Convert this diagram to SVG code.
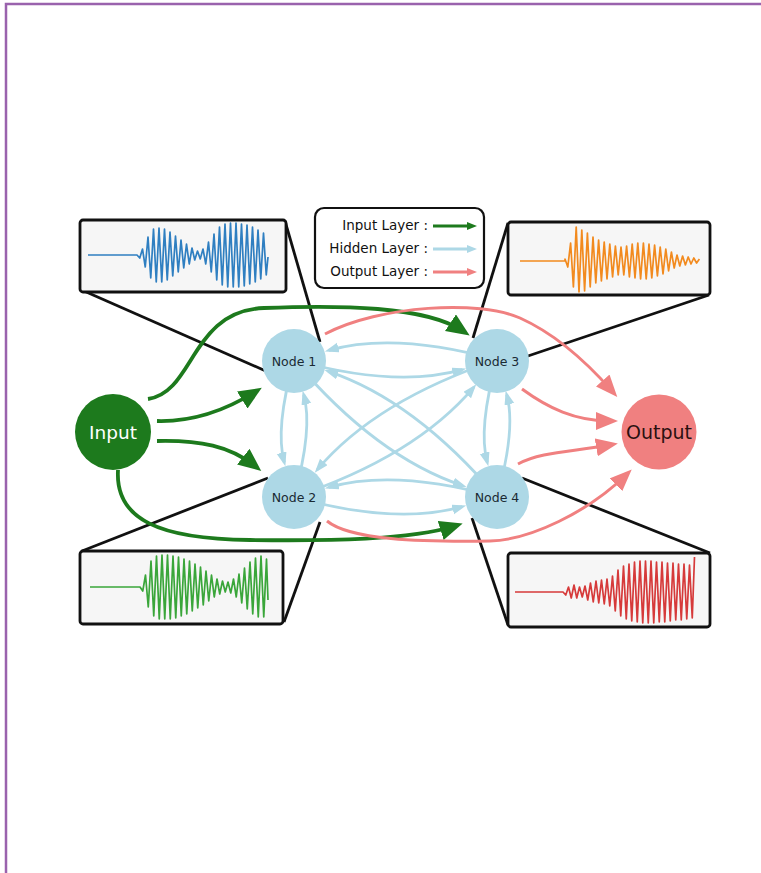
<svg xmlns="http://www.w3.org/2000/svg" width="761" height="873" viewBox="0 0 761 873">
  <style>
    .frame { stroke: #9a62ad; stroke-width: 2.5; fill: none; }
    .inset { fill: #f6f6f6; stroke: #111; stroke-width: 2.8; }
    .zoomline { stroke: #111; stroke-width: 2.8; fill: none; }
    .wave { fill: none; stroke-width: 1.7; stroke-linejoin: round; }
    .in-edge { fill: none; stroke: #1d7a1d; stroke-width: 3.8; }
    .out-edge { fill: none; stroke: #f08080; stroke-width: 3; }
    .hid-edge { fill: none; stroke: #add8e6; stroke-width: 2.8; }
    .node { fill: #add8e6; }
    .node-label { font-family: "DejaVu Sans", "Liberation Sans", sans-serif; font-size: 12.5px; fill: #1a2a33; text-anchor: middle; }
    .legend-label { font-family: "DejaVu Sans", "Liberation Sans", sans-serif; font-size: 13.5px; fill: #111; text-anchor: end; }
  </style>
  <defs>
    <marker id="ah-in" markerUnits="userSpaceOnUse" markerWidth="24" markerHeight="21" refX="15" refY="10" orient="auto">
      <path d="M0,0 L23,10 L0,20 Z" fill="#1d7a1d"/>
    </marker>
    <marker id="ah-out" markerUnits="userSpaceOnUse" markerWidth="23" markerHeight="19" refX="14" refY="9" orient="auto">
      <path d="M0,0 L22,9 L0,18 Z" fill="#f08080"/>
    </marker>
    <marker id="ah-hid" markerUnits="userSpaceOnUse" markerWidth="15" markerHeight="11" refX="10" refY="5" orient="auto">
      <path d="M0,0 L14,5 L0,10 Z" fill="#add8e6"/>
    </marker>
    <marker id="lg-in" markerUnits="userSpaceOnUse" markerWidth="11" markerHeight="9" refX="4" refY="4" orient="auto">
      <path d="M0,0 L10,4 L0,8 Z" fill="#1d7a1d"/>
    </marker>
    <marker id="lg-hid" markerUnits="userSpaceOnUse" markerWidth="11" markerHeight="9" refX="4" refY="4" orient="auto">
      <path d="M0,0 L10,4 L0,8 Z" fill="#add8e6"/>
    </marker>
    <marker id="lg-out" markerUnits="userSpaceOnUse" markerWidth="11" markerHeight="9" refX="4" refY="4" orient="auto">
      <path d="M0,0 L10,4 L0,8 Z" fill="#f08080"/>
    </marker>
  </defs>

  <rect width="761" height="873" fill="#ffffff"/>
  <!-- page frame: top and left rules -->
  <path class="frame" d="M6,873 V4 H761"/>

  <!-- lines tying each signal panel to its node -->
  <g id="zoom-lines">
    <line class="zoomline" x1="84" y1="291" x2="268" y2="372"/>
    <line class="zoomline" x1="285" y1="221" x2="320" y2="342"/>
    <line class="zoomline" x1="508" y1="223" x2="473" y2="338"/>
    <line class="zoomline" x1="709" y1="295" x2="522" y2="358"/>
    <line class="zoomline" x1="82" y1="551" x2="268" y2="478"/>
    <line class="zoomline" x1="284" y1="622" x2="320" y2="522"/>
    <line class="zoomline" x1="508" y1="625" x2="472" y2="518"/>
    <line class="zoomline" x1="710" y1="553" x2="522" y2="478"/>
  </g>

  <!-- signal panels -->
  <g id="panel-node1">
    <rect class="inset" x="80" y="220" width="206" height="72" rx="3"/>
    <polyline class="wave" stroke="#2f7fc1" points="88,255 137,255 139.75,258 142.5,249 145.25,267 148,237 150.75,278 153.5,229 156.25,282 159,228 161.75,282 164.5,229 167.25,280 170,232 172.75,276 175.5,236 178.25,272 181,240 183.75,268 186.5,244 189.25,264 192,248 194.75,260 197.5,251 200.25,259 203,249 205.75,264 208.5,242 211.25,272 214,234 216.75,280 219.5,227 222.25,285 225,224 227.75,287 230.5,223 233.25,287 236,223 238.75,287 241.5,224 244.25,286 247,225 249.75,284 252.5,227 255.25,282 258,230 260.75,279 263.5,233 266.25,275 268,257"/>
  </g>
  <g id="panel-node3">
    <rect class="inset" x="508" y="222" width="202" height="73" rx="3"/>
    <polyline class="wave" stroke="#f28a1e" points="520,261 565,261 565,259 567.8,267 570.6,243 573.4,287 576.2,227 579,292 581.8,230 584.6,291 587.4,233 590.2,287 593,237 595.8,283 598.6,240 601.4,281 604.2,242 607,279 609.8,244 612.6,277 615.4,246 618.2,275 621,247 623.8,275 626.6,246 629.4,277 632.2,244 635,278 637.8,243 640.6,279 643.4,243 646.2,279 649,244 651.8,278 654.6,245 657.4,276 660.2,247 663,274 665.8,249 668.6,271 671.4,252 674.2,268 677,255 679.8,266 682.6,256 685.4,265 688.2,257 691,264 693.8,258 696.6,263 699.4,259"/>
  </g>
  <g id="panel-node2">
    <rect class="inset" x="80" y="551" width="203" height="73" rx="3"/>
    <polyline class="wave" stroke="#3aa63a" points="90,587 140,587 142.75,591 145.5,575 148.25,607 151,561 153.75,616 156.5,556 159.25,619 162,555 164.75,619 167.5,555 170.25,619 173,556 175.75,618 178.5,557 181.25,616 184,559 186.75,614 189.5,561 192.25,611 195,564 197.75,608 200.5,567 203.25,605 206,571 208.75,601 211.5,575 214.25,597 217,579 219.75,594 222.5,581 225.25,592 228,582 230.75,593 233.5,579 236.25,597 239,574 241.75,603 244.5,568 247.25,609 250,562 252.75,614 255.5,558 258.25,617 261,556 263.75,617 266.5,559 268,600"/>
  </g>
  <g id="panel-node4">
    <rect class="inset" x="508" y="553" width="202" height="74" rx="3"/>
    <polyline class="wave" stroke="#d63a3a" points="515,592 563,592 565.75,595 568.5,587 571.25,598 574,585 576.75,598 579.5,587 582.25,597 585,586 587.75,600 590.5,583 593.25,602 596,581 598.75,603 601.5,580 604.25,604 607,579 609.75,606 612.5,576 615.25,611 618,570 620.75,616 623.5,566 626.25,619 629,564 631.75,621 634.5,562 637.25,622 640,561 642.75,623 645.5,561 648.25,623 651,561 653.75,623 656.5,562 659.25,622 662,562 664.75,622 667.5,563 670.25,621 673,563 675.75,620 678.5,564 681.25,620 684,564 686.75,619 689.5,565 692.25,618 694.5,557"/>
  </g>

  <!-- legend -->
  <g id="legend">
    <rect x="315" y="208" width="169" height="80" rx="9" fill="#ffffff" stroke="#111" stroke-width="2.2"/>
    <text class="legend-label" x="428" y="230">Input Layer :</text>
    <text class="legend-label" x="428" y="253">Hidden Layer :</text>
    <text class="legend-label" x="428" y="276">Output Layer :</text>
    <line x1="433" y1="226" x2="471" y2="226" stroke="#1d7a1d" stroke-width="2.8" marker-end="url(#lg-in)"/>
    <line x1="433" y1="249" x2="471" y2="249" stroke="#add8e6" stroke-width="2.8" marker-end="url(#lg-hid)"/>
    <line x1="433" y1="272" x2="471" y2="272" stroke="#f08080" stroke-width="2.8" marker-end="url(#lg-out)"/>
  </g>

  <!-- connectors -->
  <g id="connectors">
    <!-- hidden layer: every node to every other node -->
    <g id="hidden-edges">
      <path class="hid-edge" marker-end="url(#ah-hid)" d="M294,360 Q395.5,388.4 462.3,369.7"/>
      <path class="hid-edge" marker-end="url(#ah-hid)" d="M497,360 Q395.5,331.6 328.7,350.3"/>
      <path class="hid-edge" marker-end="url(#ah-hid)" d="M294,497 Q395.5,525.4 462.3,506.7"/>
      <path class="hid-edge" marker-end="url(#ah-hid)" d="M497,497 Q395.5,468.6 328.7,487.3"/>
      <path class="hid-edge" marker-end="url(#ah-hid)" d="M294,360 Q274.8,428.5 284.3,462.3"/>
      <path class="hid-edge" marker-end="url(#ah-hid)" d="M294,497 Q313.2,428.5 303.7,394.7"/>
      <path class="hid-edge" marker-end="url(#ah-hid)" d="M497,360 Q477.8,428.5 487.3,462.3"/>
      <path class="hid-edge" marker-end="url(#ah-hid)" d="M497,497 Q516.2,428.5 506.7,394.7"/>
      <path class="hid-edge" marker-end="url(#ah-hid)" d="M294,360 Q376.3,456.9 462.8,485.7"/>
      <path class="hid-edge" marker-end="url(#ah-hid)" d="M497,497 Q414.7,400.1 328.2,371.3"/>
      <path class="hid-edge" marker-end="url(#ah-hid)" d="M294,497 Q414.7,456.9 473.7,387.4"/>
      <path class="hid-edge" marker-end="url(#ah-hid)" d="M497,360 Q376.3,400.1 317.3,469.6"/>
    </g>
    <!-- input layer -->
    <g id="input-edges">
      <path class="in-edge" marker-end="url(#ah-in)" d="M148,399 C195,392 190,311 264,308 C340,305 425,306 463,331"/>
      <path class="in-edge" marker-end="url(#ah-in)" d="M157,421 C195,422 226,410 255,392"/>
      <path class="in-edge" marker-end="url(#ah-in)" d="M157,441 C200,440 230,446 255,466"/>
      <path class="in-edge" marker-end="url(#ah-in)" d="M118,470 C115,520 160,539 250,540 C330,541 410,540 455,526"/>
    </g>
    <!-- output layer -->
    <g id="output-edges">
      <path class="out-edge" marker-end="url(#ah-out)" d="M325,334 C380,305 480,300 520,318 C560,336 590,366 612,391"/>
      <path class="out-edge" marker-end="url(#ah-out)" d="M522,389 C548,408 575,421 610,421"/>
      <path class="out-edge" marker-end="url(#ah-out)" d="M518,464 C540,452 570,452 610,445"/>
      <path class="out-edge" marker-end="url(#ah-out)" d="M327,521 C350,540 420,542 490,541 C530,540 588,512 626,475"/>
    </g>
  </g>

  <!-- nodes -->
  <g id="input">
    <circle cx="113" cy="432" r="38" fill="#1d7a1d"/>
    <text x="113" y="438.5" font-family="DejaVu Sans, Liberation Sans, sans-serif" font-size="18.5" fill="#ffffff" text-anchor="middle">Input</text>
  </g>
  <g id="node1">
    <circle class="node" cx="294" cy="361" r="32"/>
    <text class="node-label" x="294" y="365.5">Node 1</text>
  </g>
  <g id="node2">
    <circle class="node" cx="294" cy="497" r="32"/>
    <text class="node-label" x="294" y="501.5">Node 2</text>
  </g>
  <g id="node3">
    <circle class="node" cx="497" cy="361" r="32"/>
    <text class="node-label" x="497" y="365.5">Node 3</text>
  </g>
  <g id="node4">
    <circle class="node" cx="497" cy="497" r="32"/>
    <text class="node-label" x="497" y="501.5">Node 4</text>
  </g>
  <g id="output">
    <circle cx="659" cy="432" r="37.5" fill="#f08080"/>
    <text x="659" y="439" font-family="DejaVu Sans, Liberation Sans, sans-serif" font-size="19" fill="#2a1010" text-anchor="middle">Output</text>
  </g>
</svg>
